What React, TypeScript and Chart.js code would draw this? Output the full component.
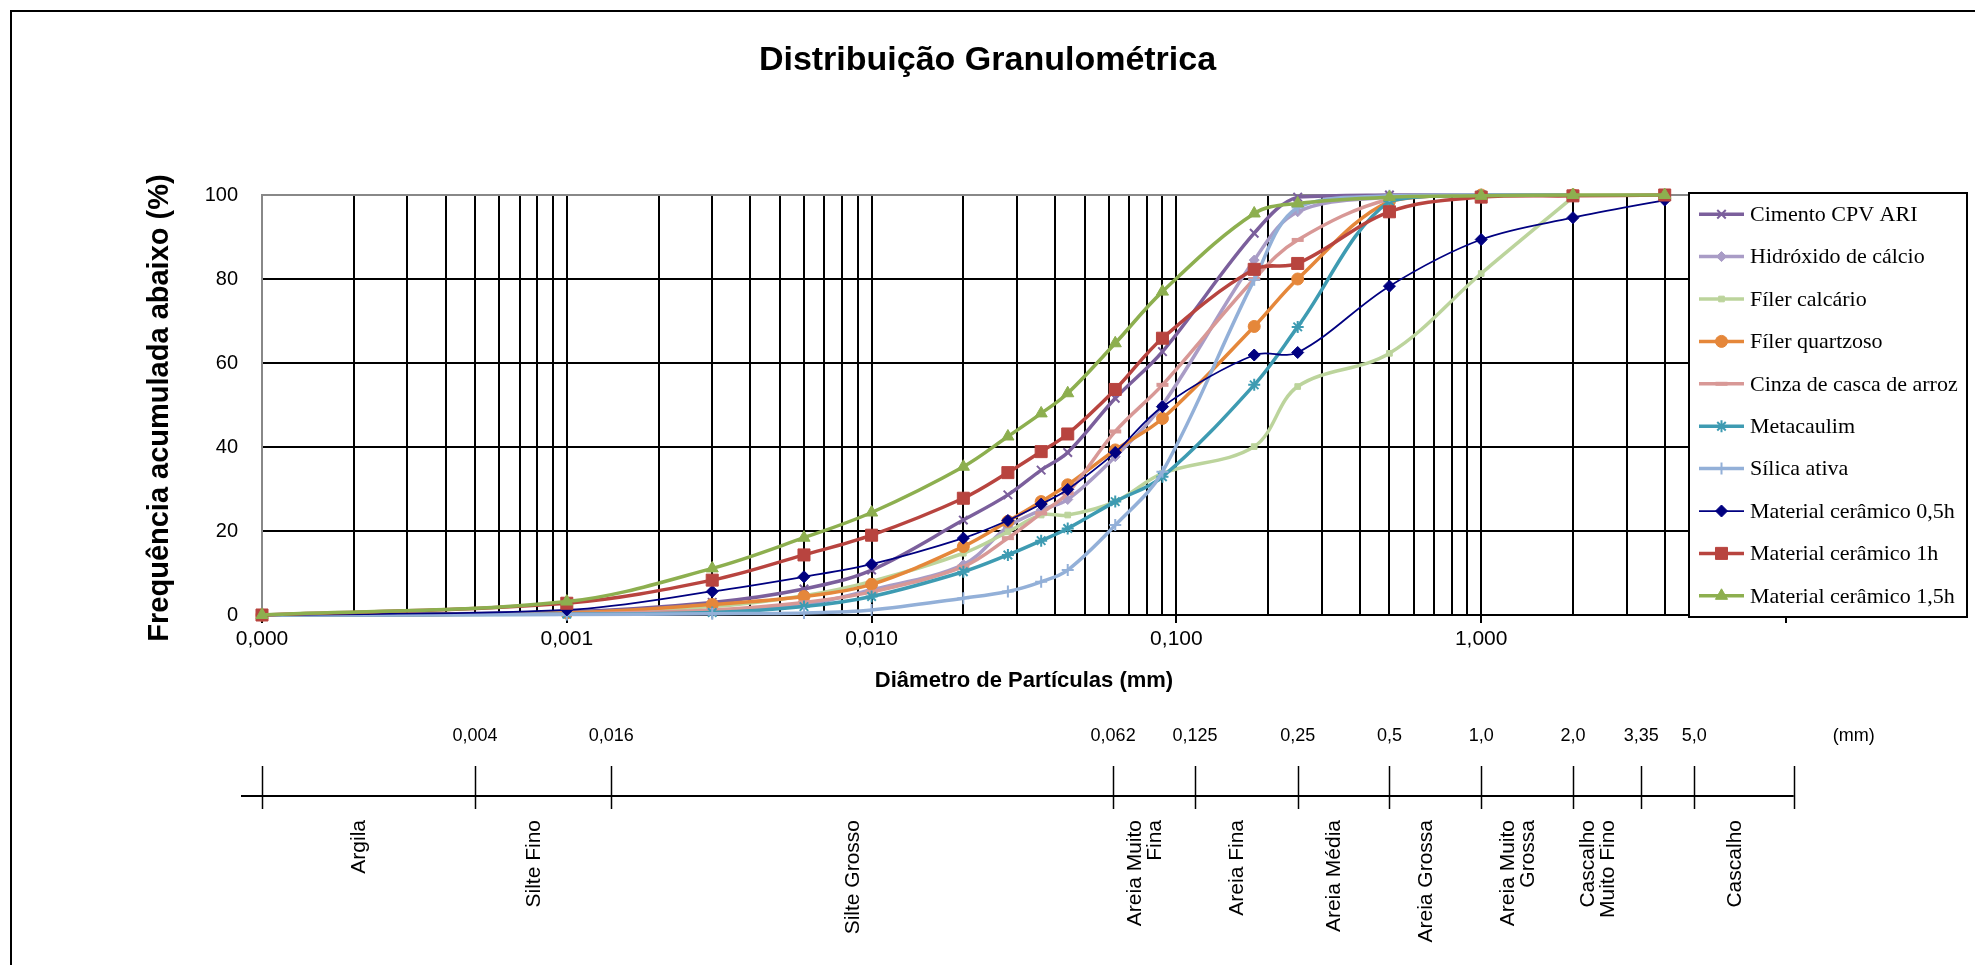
import React, { useEffect, useRef } from 'react';
import { Chart, registerables } from 'chart.js';
import { drawPoint } from 'chart.js/helpers';

Chart.register(...registerables);

// Diâmetros de partícula (mm) em que as curvas foram medidas
const diameters = [0.0001, 0.001, 0.003, 0.006, 0.01, 0.02, 0.028, 0.036, 0.044, 0.063, 0.09, 0.18, 0.25, 0.5, 1, 2, 4];

const seriesNames = [
  'Cimento CPV ARI',
  'Hidróxido de cálcio',
  'Fíler calcário',
  'Fíler quartzoso',
  'Cinza de casca de arroz',
  'Metacaulim',
  'Sílica ativa',
  'Material cerâmico 0,5h',
  'Material cerâmico 1h',
  'Material cerâmico 1,5h',
];

// Frequência acumulada abaixo (%) para cada diâmetro
const cimentoCpvAri = [0, 0.8, 3.0, 6.2, 10.7, 22.6, 28.6, 34.5, 38.7, 51.6, 62.7, 90.9, 99.5, 100, 100, 100, null];
const hidroxidoCalcio = [0, 0.3, 1.0, 2.5, 6.0, 12.0, 21.0, 25.0, 27.5, 37.7, 50.0, 84.5, 96.0, 99.5, 100, 100, null];
const filerCalcario = [0, 0.5, 2.0, 4.6, 8.0, 14.7, 19.8, 23.8, 23.8, 27.0, 33.7, 40.1, 54.4, 62.3, 81.3, 99.5, null];
const filerQuartzoso = [0, 0.5, 2.5, 4.4, 7.3, 16.3, 22.3, 27.0, 31.0, 39.3, 46.8, 68.7, 80.0, 98.5, 100, 100, null];
const cinzaCascaArroz = [0, 0.3, 1.2, 3.0, 5.5, 11.5, 18.3, 24.2, 29.0, 43.7, 54.8, 80.0, 89.3, 99.0, 100, 100, null];
const metacaulim = [0, 0.2, 0.6, 2.0, 4.4, 10.3, 14.3, 17.7, 20.6, 27.0, 32.9, 54.8, 68.6, 98.5, 100, 100, null];
const silicaAtiva = [0, 0.1, 0.3, 0.5, 1.2, 4.0, 5.6, 7.9, 10.7, 21.4, 34.1, 79.8, 97.0, 99.8, 100, 100, null];
const ceramico05h = [0, 1.2, 5.6, 9.1, 12.1, 18.3, 22.5, 26.4, 29.9, 38.7, 49.6, 61.9, 62.5, 78.3, 89.4, 94.6, 98.8];
const ceramico1h = [0, 2.8, 8.3, 14.3, 19.0, 27.8, 33.9, 38.9, 43.1, 53.7, 65.9, 82.3, 83.7, 96.0, 99.5, 99.8, 100];
const ceramico15h = [0, 3.2, 11.1, 18.4, 24.4, 35.3, 42.5, 48.0, 52.8, 64.7, 77.0, 95.6, 98.0, 99.5, 99.8, 100, 100];

const seriesValues = [
  cimentoCpvAri, hidroxidoCalcio, filerCalcario, filerQuartzoso, cinzaCascaArroz,
  metacaulim, silicaAtiva, ceramico05h, ceramico1h, ceramico15h,
];

// Aparência de cada série
const seriesColors = ['#7B5F9C', '#A99CC6', '#BCD49C', '#E5873A', '#D89896', '#3E9BB2', '#93B0D8', '#000080', '#B8443F', '#8DAF4F'];
const seriesPointStyles = ['crossRot', 'rectRot', 'rect', 'circle', 'line', 'star', 'cross', 'rectRot', 'rect', 'triangle'];
const seriesPointRadius = [6, 5, 4, 6, 6, 6, 6, 6, 8.5, 7];
const seriesPointBorder = [2, 1, 1, 1, 4, 2, 2, 1, 1, 1];
const seriesLineWidths = [3.5, 3.5, 3.5, 3.5, 3.5, 3.5, 3.5, 1.75, 3.5, 3.5];

// Escala granulométrica (mm) desenhada sob o gráfico
const classBoundaryLabels = ['', '0,004', '0,016', '0,062', '0,125', '0,25', '0,5', '1,0', '2,0', '3,35', '5,0', ''];
const classBoundaryAxisPos = [0.0001, 0.0005, 0.0014, 0.062, 0.115, 0.25, 0.5, 1, 2, 3.35, 5, 10.6];
const classNames = [
  ['Argila'],
  ['Silte Fino'],
  ['Silte Grosso'],
  ['Areia Muito', 'Fina'],
  ['Areia Fina'],
  ['Areia Média'],
  ['Areia Grossa'],
  ['Areia Muito', 'Grossa'],
  ['Cascalho', 'Muito Fino'],
  [],
  ['Cascalho'],
];

const chartTitle = 'Distribuição Granulométrica';
const yTitle = 'Frequência acumulada abaixo (%)';
const xTitle = 'Diâmetro de Partículas (mm)';

const SANS = '"Liberation Sans", Arial, sans-serif';
const SERIF = '"Liberation Serif", "Times New Roman", serif';

const X_MIN = 0.0001;
const X_MAX = 10;

const isDecade = (v: number) => {
  const l = Math.log10(v);
  return Math.abs(l - Math.round(l)) < 1e-9;
};

// Grade vertical: 1..9 x 10^k
const xGridValues: number[] = [];
for (let e = -4; e <= 0; e++) {
  for (let m = 1; m <= 9; m++) xGridValues.push(Number((m * Math.pow(10, e)).toPrecision(3)));
}
xGridValues.push(10);

const decorPlugin = {
  id: 'decor',
  beforeDraw(chart: any) {
    const { ctx, width, height } = chart;
    ctx.save();
    ctx.fillStyle = '#ffffff';
    ctx.fillRect(0, 0, width, height);
    ctx.strokeStyle = '#000000';
    ctx.lineWidth = 2;
    ctx.strokeRect(11, 11, width + 40, height + 40);
    ctx.restore();
  },
  afterDraw(chart: any) {
    const { ctx, width, chartArea } = chart;
    const xs = chart.scales.x;
    const midX = (chartArea.left + chartArea.right) / 2;
    ctx.save();
    ctx.fillStyle = '#000';

    // Título
    ctx.font = `bold 34px ${SANS}`;
    ctx.textAlign = 'center';
    ctx.textBaseline = 'middle';
    ctx.fillText(chartTitle, width / 2, 61);

    // Título do eixo Y
    ctx.save();
    ctx.translate(160, (chartArea.top + chartArea.bottom) / 2 + 3);
    ctx.rotate(-Math.PI / 2);
    ctx.font = `bold 29px ${SANS}`;
    ctx.fillText(yTitle, 0, 0);
    ctx.restore();

    // Título do eixo X
    ctx.font = `bold 22px ${SANS}`;
    ctx.fillText(xTitle, midX, chartArea.bottom + 66);

    // Legenda sobreposta à área de plotagem
    const lx = chartArea.right - 97;
    const ly = chartArea.top - 2;
    const lw = 278;
    const lh = chartArea.bottom - chartArea.top + 4;
    ctx.fillStyle = '#ffffff';
    ctx.fillRect(lx, ly, lw, lh);
    ctx.strokeStyle = '#000';
    ctx.lineWidth = 2;
    ctx.strokeRect(lx, ly, lw, lh);
    const rowH = lh / seriesNames.length;
    seriesNames.forEach((name, i) => {
      const cy = ly + rowH * (i + 0.5);
      const color = seriesColors[i];
      ctx.strokeStyle = color;
      ctx.lineWidth = seriesLineWidths[i];
      ctx.beginPath();
      ctx.moveTo(lx + 10, cy);
      ctx.lineTo(lx + 55, cy);
      ctx.stroke();
      ctx.fillStyle = color;
      ctx.lineWidth = seriesPointBorder[i];
      drawPoint(ctx, { pointStyle: seriesPointStyles[i], radius: seriesPointRadius[i], rotation: 0, borderWidth: seriesPointBorder[i] }, lx + 32.5, cy);
      ctx.fillStyle = '#000';
      ctx.font = `22px ${SERIF}`;
      ctx.textAlign = 'left';
      ctx.textBaseline = 'middle';
      ctx.fillText(name, lx + 61, cy + 1);
    });

    // Escala granulométrica
    const lineY = 796;
    const px = classBoundaryAxisPos.map((v) => xs.getPixelForValue(v));
    ctx.strokeStyle = '#000';
    ctx.lineWidth = 2;
    ctx.beginPath();
    ctx.moveTo(px[0] - 21, lineY);
    ctx.lineTo(px[px.length - 1], lineY);
    ctx.stroke();
    ctx.lineWidth = 1.5;
    px.forEach((p) => {
      ctx.beginPath();
      ctx.moveTo(Math.round(p) + 0.5, lineY - 30);
      ctx.lineTo(Math.round(p) + 0.5, lineY + 13);
      ctx.stroke();
    });
    ctx.fillStyle = '#000';
    ctx.font = `18px ${SANS}`;
    ctx.textAlign = 'center';
    ctx.textBaseline = 'middle';
    classBoundaryLabels.forEach((t, i) => {
      if (t) ctx.fillText(t, px[i], 736);
    });
    ctx.fillText('(mm)', px[px.length - 1] + 60, 736);

    ctx.font = `21px ${SANS}`;
    classNames.forEach((lines, i) => {
      if (!lines.length) return;
      const cx = (px[i] + px[i + 1]) / 2 - 9;
      lines.forEach((line, k) => {
        const off = (k - (lines.length - 1) / 2) * 20;
        ctx.save();
        ctx.translate(cx + off, 820);
        ctx.rotate(-Math.PI / 2);
        ctx.textAlign = 'right';
        ctx.textBaseline = 'middle';
        ctx.fillText(line, 0, 0);
        ctx.restore();
      });
    });
    ctx.restore();
  },
};

export default function App() {
  const canvasRef = useRef<HTMLCanvasElement | null>(null);

  useEffect(() => {
    const canvas = canvasRef.current;
    if (!canvas) return;
    const n = seriesNames.length;
    const chart = new Chart(canvas, {
      type: 'line',
      data: {
        datasets: seriesNames.map((name, i) => ({
          label: name,
          data: diameters
            .map((d, j) => ({ x: d, y: seriesValues[i][j] }))
            .filter((p) => p.y !== null),
          borderColor: seriesColors[i],
          backgroundColor: seriesColors[i],
          pointBackgroundColor: seriesColors[i],
          pointBorderColor: seriesColors[i],
          borderWidth: seriesLineWidths[i],
          pointStyle: seriesPointStyles[i],
          pointRadius: seriesPointRadius[i],
          pointBorderWidth: seriesPointBorder[i],
          tension: 0.35,
          fill: false,
          clip: 14,
          order: n - i,
        })),
      },
      options: {
        responsive: false,
        animation: false,
        events: [],
        layout: { padding: { left: 162, right: 189, top: 195, bottom: 290 } },
        plugins: { legend: { display: false }, title: { display: false }, tooltip: { enabled: false } },
        scales: {
          x: {
            type: 'logarithmic',
            min: X_MIN,
            max: X_MAX,
            afterBuildTicks: (scale: any) => {
              scale.ticks = xGridValues.map((v) => ({ value: v, major: isDecade(v) }));
            },
            afterFit: (scale: any) => {
              scale.height = 60;
              scale.paddingLeft = 0;
              scale.paddingRight = 0;
            },
            ticks: {
              autoSkip: false,
              maxRotation: 0,
              minRotation: 0,
              padding: 4,
              color: '#000',
              font: { family: SANS, size: 21 },
              callback: (value: any) => {
                const v = Number(value);
                return isDecade(v) && v < X_MAX ? v.toFixed(3).replace('.', ',') : '';
              },
            },
            grid: {
              color: (c: any) => (c.tick && c.tick.value === X_MIN ? '#888888' : '#000000'),
              lineWidth: 2,
              tickLength: 8,
              tickWidth: 2,
              tickColor: (c: any) => (c.tick && isDecade(c.tick.value) ? '#000000' : 'rgba(0,0,0,0)'),
            },
            border: { color: '#000000', width: 2 },
          },
          y: {
            min: 0,
            max: 100,
            afterFit: (scale: any) => {
              scale.width = 100;
              scale.paddingTop = 0;
              scale.paddingBottom = 0;
            },
            ticks: { stepSize: 20, padding: 24, color: '#000', font: { family: SANS, size: 20 } },
            grid: {
              color: (c: any) => (c.tick && c.tick.value === 100 ? '#888888' : '#000000'),
              lineWidth: 2,
              drawTicks: false,
            },
            border: { color: '#888888', width: 2 },
          },
        },
      },
      plugins: [decorPlugin],
    } as any);
    return () => chart.destroy();
  }, []);

  return (
    <div style={{ position: 'absolute', left: 0, top: 0, width: 1975, height: 965 }}>
      <canvas ref={canvasRef} width={1975} height={965} style={{ display: 'block', width: 1975, height: 965 }} />
    </div>
  );
}
